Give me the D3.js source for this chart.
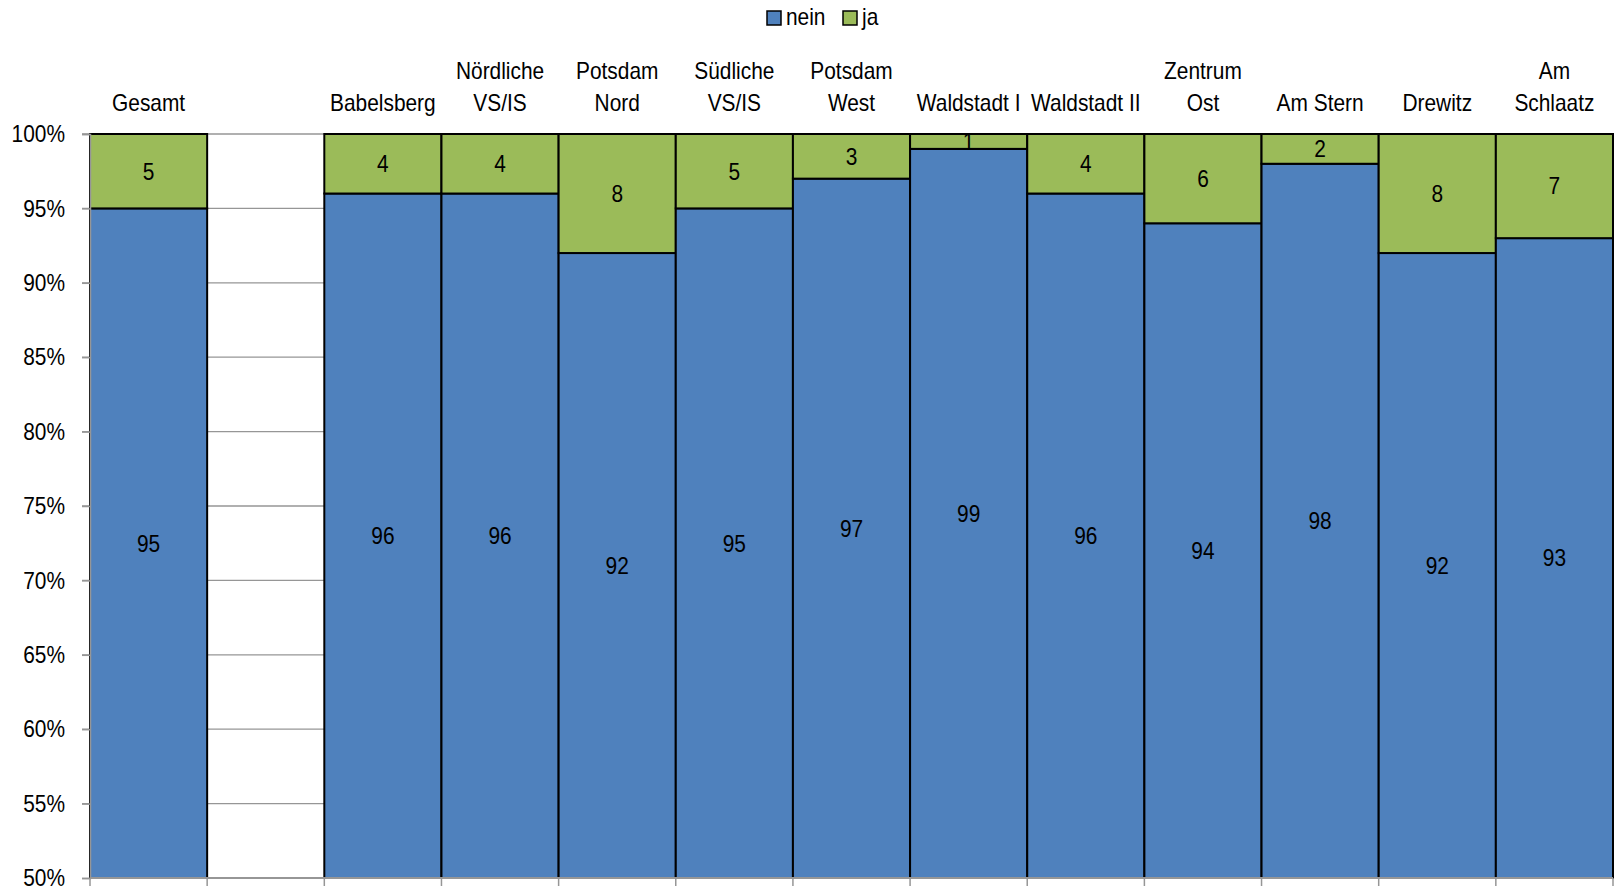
<!DOCTYPE html>
<html>
<head>
<meta charset="utf-8">
<script src="https://cdn.jsdelivr.net/npm/d3@7"></script>
<style>
  body { margin: 0; background: #fff; }
  text { font-family: "Liberation Sans", Arial, sans-serif; fill: #000; }
</style>
</head>
<body>
<div id="chart"></div>
<script>
// categories (second slot is an empty gap, like in the original)
var categories = ["Gesamt", "", "Babelsberg", "Nördliche\nVS/IS", "Potsdam\nNord",
  "Südliche\nVS/IS", "Potsdam\nWest", "Waldstadt I", "Waldstadt II",
  "Zentrum\nOst", "Am Stern", "Drewitz", "Am\nSchlaatz"];
var nein = [95, null, 96, 96, 92, 95, 97, 99, 96, 94, 98, 92, 93];
var ja   = [5, null, 4, 4, 8, 5, 3, 1, 4, 6, 2, 8, 7];
var yTicks = [50, 55, 60, 65, 70, 75, 80, 85, 90, 95, 100];
var seriesNames = ["nein", "ja"];
var colors = {nein: "#4F81BD", ja: "#9BBB59"};

var W = 1618, H = 891;
var plot = {left: 90, right: 1613, top: 134, bottom: 878};
var FS = "24px", SX = 0.87;   // the original font is a bit condensed

var svg = d3.select("#chart").append("svg")
  .attr("width", W).attr("height", H);

// text placed at (px,py), squeezed horizontally
function label(parent, px, py, lines, anchor, lineH) {
  var g = parent.append("g")
    .attr("transform", "translate(" + px + "," + py + ") scale(" + SX + ",1)");
  var t = g.append("text")
    .attr("text-anchor", anchor)
    .style("font-size", FS);
  var n = lines.length;
  lines.forEach(function(l, k) {
    t.append("tspan").attr("x", 0).attr("y", -(n - 1 - k) * (lineH || 0)).text(l);
  });
  return t;
}

var x = d3.scaleBand()
  .domain(d3.range(categories.length))
  .range([plot.left, plot.right])
  .padding(0);

var y = d3.scaleLinear()
  .domain([50, 100])
  .range([plot.bottom, plot.top])
  .clamp(true);

// gridlines
svg.append("g").selectAll("line")
  .data(yTicks.filter(function(d) { return d > 50; }))
  .enter().append("line")
    .attr("x1", plot.left - 8).attr("x2", plot.right)
    .attr("y1", function(d) { return y(d); })
    .attr("y2", function(d) { return y(d); })
    .attr("stroke", "#969696").attr("stroke-width", 1.3);

// stacked data
var rows = categories.map(function(c, i) {
  return {i: i, nein: nein[i], ja: ja[i]};
}).filter(function(d) { return d.nein != null; });

var segs = [];
rows.forEach(function(d) {
  segs.push({i: d.i, key: "nein", y0: 0, y1: d.nein, v: d.nein});
  segs.push({i: d.i, key: "ja", y0: d.nein, y1: d.nein + d.ja, v: d.ja});
});

// bars
svg.append("g").selectAll("rect")
  .data(segs)
  .enter().append("rect")
    .attr("x", function(d) { return x(d.i); })
    .attr("width", x.bandwidth())
    .attr("y", function(d) { return y(d.y1); })
    .attr("height", function(d) { return y(d.y0) - y(d.y1); })
    .attr("fill", function(d) { return colors[d.key]; })
    .attr("stroke", "#000")
    .attr("stroke-width", 2);

// value labels
var vl = svg.append("g");
segs.forEach(function(d) {
  label(vl, x(d.i) + x.bandwidth() / 2, (y(d.y0) + y(d.y1)) / 2, [String(d.v)], "middle")
    .attr("dy", "0.35em");
});

// y axis
var yAxis = svg.append("g")
  .attr("transform", "translate(" + plot.left + ",0)")
  .call(d3.axisLeft(y).tickValues(yTicks).tickSize(8).tickPadding(17)
    .tickFormat(function(d) { return d + "%"; }));
yAxis.selectAll("line, path").attr("stroke", "#969696").attr("stroke-width", 1.5);
yAxis.selectAll("text")
  .attr("x", -25 / SX)
  .attr("transform", "scale(" + SX + ",1)")
  .style("font-size", FS)
  .style("font-family", "'Liberation Sans', Arial, sans-serif").attr("fill", "#000");

// x axis (line at 50% with ticks between categories)
svg.append("line")
  .attr("x1", plot.left).attr("x2", plot.right)
  .attr("y1", plot.bottom).attr("y2", plot.bottom)
  .attr("stroke", "#969696").attr("stroke-width", 2);
svg.append("g").selectAll("line")
  .data(d3.range(categories.length + 1))
  .enter().append("line")
    .attr("x1", function(i) { return plot.left + i * x.step(); })
    .attr("x2", function(i) { return plot.left + i * x.step(); })
    .attr("y1", plot.bottom).attr("y2", plot.bottom + 8)
    .attr("stroke", "#969696").attr("stroke-width", 1.5);

// category labels on top, bottom aligned
var cg = svg.append("g");
categories.forEach(function(c, i) {
  if (!c) return;
  label(cg, x(i) + x.bandwidth() / 2, 111, c.split("\n"), "middle", 31.7);
});

// legend
var lg = svg.append("g").attr("transform", "translate(767,11)");
var lx = [0, 76];
seriesNames.forEach(function(s, k) {
  lg.append("rect")
    .attr("x", lx[k]).attr("y", 0).attr("width", 14).attr("height", 14)
    .attr("fill", colors[s]).attr("stroke", "#000").attr("stroke-width", 1.5);
  label(lg, lx[k] + 19, 14, [s], "start");
});
</script>
</body>
</html>
